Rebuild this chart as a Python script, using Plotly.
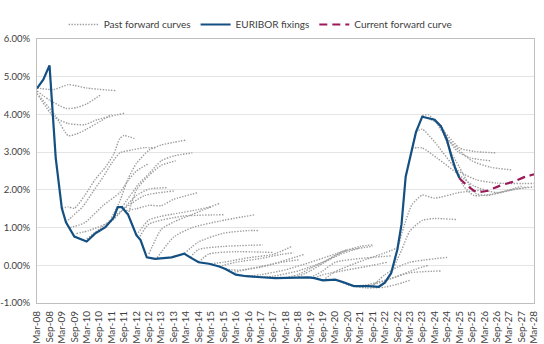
import plotly.graph_objects as go

# ---------------- data (values in %) ----------------
euribor_dates = ["2008-03", "2008-06", "2008-09", "2008-12", "2009-03", "2009-05", "2009-09",
                 "2010-03", "2010-07", "2010-12", "2011-04", "2011-06", "2011-08", "2011-11",
                 "2012-03", "2012-05", "2012-08", "2012-12", "2013-08", "2014-02", "2014-05",
                 "2014-09", "2015-02", "2015-07", "2015-10", "2016-03", "2016-08", "2017-02",
                 "2017-10", "2019-02", "2019-05", "2019-09", "2020-03", "2020-07", "2020-12",
                 "2021-07", "2021-12", "2022-03", "2022-06", "2022-09", "2022-11", "2023-01",
                 "2023-04", "2023-06", "2023-09", "2023-12", "2024-03", "2024-06", "2024-09",
                 "2024-11", "2025-01", "2025-03"]
euribor_values = [4.69, 4.92, 5.30, 2.85, 1.51, 1.14, 0.76,
                  0.63, 0.84, 1.01, 1.26, 1.54, 1.54, 1.34,
                  0.80, 0.67, 0.21, 0.17, 0.21, 0.31, 0.21,
                  0.08, 0.04, -0.03, -0.10, -0.25, -0.29, -0.32,
                  -0.34, -0.32, -0.34, -0.40, -0.38, -0.45, -0.55,
                  -0.55, -0.57, -0.46, -0.21, 0.42, 1.09, 2.35,
                  3.11, 3.53, 3.94, 3.90, 3.86, 3.69, 3.31,
                  2.90, 2.56, 2.31]

current_fwd_dates = ["2025-03", "2025-07", "2025-11", "2026-04", "2026-10", "2027-05", "2027-11", "2028-03"]
current_fwd_values = [2.31, 2.10, 1.95, 1.97, 2.10, 2.22, 2.35, 2.41]

past_fwd_dates = [
    ["2008-03", "2008-11", "2009-06", "2009-09", "2010-03", "2011-05"],
    ["2008-03", "2008-09", "2009-05", "2009-10", "2010-03", "2010-10"],
    ["2008-03", "2008-11", "2009-06", "2010-02", "2010-08", "2011-09"],
    ["2008-04", "2008-12", "2009-06", "2009-10", "2010-03", "2010-12", "2011-03"],
    ["2009-03", "2009-06", "2009-09", "2010-02", "2010-07", "2010-12", "2011-04", "2011-07", "2011-09", "2012-02"],
    ["2009-05", "2009-08", "2010-01", "2010-06", "2010-11", "2011-03", "2011-07", "2012-01", "2012-07", "2012-12"],
    ["2009-07", "2010-02", "2010-11", "2011-07", "2011-11", "2012-03", "2012-09"],
    ["2009-10", "2010-04", "2011-03", "2011-09", "2012-03", "2012-09", "2013-06"],
    ["2010-03", "2010-10", "2011-03", "2011-09", "2012-07", "2013-09"],
    ["2011-03", "2011-07", "2011-11", "2012-03", "2012-09", "2013-03", "2013-09", "2014-03"],
    ["2011-08", "2011-12", "2012-04", "2012-09", "2013-03", "2013-09", "2014-06"],
    ["2011-11", "2012-03", "2012-09", "2013-03", "2013-10"],
    ["2011-10", "2012-03", "2012-09", "2013-03", "2013-09", "2014-09"],
    ["2012-03", "2012-09", "2013-03", "2013-09", "2014-09", "2015-03"],
    ["2012-04", "2012-09", "2014-01", "2015-09"],
    ["2012-09", "2013-03", "2013-09", "2014-06", "2015-07"],
    ["2013-01", "2013-09", "2014-06", "2015-07", "2016-12"],
    ["2014-02", "2014-09", "2015-09", "2016-09", "2017-02"],
    ["2014-05", "2014-09", "2015-09", "2017-04"],
    ["2014-09", "2015-02", "2016-03", "2017-09"],
    ["2015-03", "2015-09", "2016-09", "2017-09", "2018-06"],
    ["2015-07", "2016-03", "2017-03", "2018-01", "2018-07"],
    ["2016-01", "2016-09", "2017-09", "2018-12"],
    ["2015-10", "2016-04", "2017-03", "2018-01", "2018-10"],
    ["2016-09", "2017-03", "2018-03", "2019-03", "2020-03", "2020-09"],
    ["2017-03", "2017-09", "2018-09", "2019-09", "2020-06", "2021-03"],
    ["2018-03", "2018-09", "2019-03", "2019-09", "2020-06", "2021-03", "2021-09"],
    ["2018-09", "2019-03", "2019-09", "2020-03", "2020-09", "2021-09"],
    ["2019-03", "2019-09", "2020-03", "2021-03", "2022-06"],
    ["2019-05", "2019-09", "2020-09", "2021-09", "2022-04"],
    ["2019-09", "2020-03", "2021-03", "2022-03", "2022-09"],
    ["2021-09", "2022-03", "2022-09", "2023-03", "2024-09"],
    ["2021-03", "2021-09", "2022-06", "2023-03", "2024-06"],
    ["2020-03", "2020-09", "2021-06", "2022-03", "2022-09", "2023-03"],
    ["2020-12", "2021-06", "2022-06", "2023-06", "2023-12"],
    ["2022-06", "2022-11", "2023-03", "2023-09", "2024-03", "2025-02"],
    ["2022-09", "2022-12", "2023-04", "2023-09", "2024-03", "2025-03", "2026-03"],
    ["2023-04", "2023-09", "2024-04", "2025-02", "2025-10", "2026-09", "2027-09"],
    ["2023-06", "2023-09", "2024-03", "2025-02", "2025-11", "2026-09", "2028-03"],
    ["2023-09", "2023-12", "2024-08", "2025-03", "2025-10", "2026-09"],
    ["2023-12", "2024-06", "2024-10", "2025-02", "2025-08", "2026-06"],
    ["2024-03", "2024-09", "2025-09", "2026-06", "2027-04"],
    ["2024-06", "2024-10", "2025-03", "2025-07", "2025-11", "2026-04", "2027-03", "2027-12"],
    ["2024-09", "2025-01", "2025-05", "2025-10", "2026-06", "2027-06", "2028-03"],
]
past_fwd_values = [
    [4.70, 4.66, 4.79, 4.77, 4.70, 4.63],
    [4.62, 4.38, 4.16, 4.18, 4.28, 4.53],
    [4.55, 3.94, 3.76, 3.73, 3.86, 4.03],
    [4.50, 3.95, 3.44, 3.48, 3.61, 3.90, 4.00],
    [1.51, 1.55, 1.51, 1.85, 2.27, 2.60, 2.94, 3.36, 3.44, 3.36],
    [1.14, 1.30, 1.55, 1.95, 2.35, 2.70, 2.98, 3.06, 3.12, 3.11],
    [1.00, 1.13, 1.59, 1.93, 2.25, 2.50, 2.70],
    [0.84, 0.92, 1.17, 1.51, 1.85, 2.02, 2.06],
    [0.70, 1.00, 1.22, 1.50, 1.85, 1.97],
    [1.26, 1.70, 2.30, 2.70, 3.05, 3.19, 3.26, 3.32],
    [1.54, 1.85, 2.15, 2.43, 2.77, 2.90, 2.98],
    [1.34, 2.00, 2.38, 2.65, 2.77],
    [1.45, 1.50, 1.59, 1.58, 1.75, 1.93],
    [0.80, 1.20, 1.30, 1.36, 1.48, 1.55],
    [0.70, 1.09, 1.30, 1.34],
    [0.30, 0.95, 1.15, 1.35, 1.64],
    [0.20, 0.75, 1.00, 1.17, 1.34],
    [0.31, 0.62, 0.85, 0.92, 0.92],
    [0.21, 0.42, 0.50, 0.54],
    [0.08, 0.30, 0.36, 0.34],
    [0.04, 0.08, 0.20, 0.29, 0.50],
    [-0.03, 0.08, 0.18, 0.29, 0.33],
    [-0.20, -0.10, 0.04, 0.29],
    [-0.10, -0.13, -0.05, 0.08, 0.15],
    [-0.29, -0.25, -0.12, 0.08, 0.30, 0.42],
    [-0.32, -0.29, -0.15, 0.08, 0.30, 0.46],
    [-0.33, -0.25, -0.08, 0.08, 0.35, 0.50, 0.54],
    [-0.30, -0.15, 0.05, 0.25, 0.40, 0.50],
    [-0.33, -0.15, 0.08, 0.18, 0.25],
    [-0.34, -0.25, -0.12, 0.00, 0.08],
    [-0.40, -0.17, 0.10, 0.33, 0.46],
    [-0.55, -0.25, -0.05, 0.08, 0.21],
    [-0.55, -0.52, -0.35, -0.20, -0.15],
    [-0.38, -0.52, -0.60, -0.58, -0.50, -0.40],
    [-0.55, -0.52, -0.35, -0.10, 0.00],
    [-0.21, 0.40, 0.90, 1.19, 1.24, 1.21],
    [0.42, 1.00, 1.60, 1.86, 1.78, 1.93, 2.00],
    [3.11, 3.11, 2.85, 2.43, 2.10, 1.93, 2.10],
    [3.53, 3.61, 3.27, 2.52, 2.27, 2.18, 2.17],
    [3.97, 3.99, 3.52, 3.11, 3.02, 2.98],
    [3.90, 3.70, 3.30, 3.02, 2.85, 2.77],
    [3.86, 3.36, 2.77, 2.60, 2.53],
    [3.69, 3.10, 2.60, 2.20, 1.90, 1.85, 1.98, 2.08],
    [3.31, 2.60, 2.10, 1.85, 1.88, 2.02, 2.08],
]

y_tick_values = [-1, 0, 1, 2, 3, 4, 5, 6]
y_tick_labels = ["-1.00%", "0.00%", "1.00%", "2.00%", "3.00%", "4.00%", "5.00%", "6.00%"]

# ---------------- figure ----------------
FONT = "Lato, 'Liberation Sans', sans-serif"
fig = go.Figure()

for i, (d, v) in enumerate(zip(past_fwd_dates, past_fwd_values)):
    fig.add_trace(go.Scatter(
        x=d, y=v, mode="lines", name="Past forward curves",
        line=dict(color="#9e9e9e", width=1.4, dash="1.4px,1.4px", shape="spline", smoothing=0.6),
        legendgroup="past", showlegend=(i == 0), hoverinfo="skip"))

fig.add_trace(go.Scatter(
    x=euribor_dates, y=euribor_values, mode="lines", name="EURIBOR fixings",
    line=dict(color="#134f82", width=2.2)))

fig.add_trace(go.Scatter(
    x=current_fwd_dates, y=current_fwd_values, mode="lines", name="Current forward curve",
    line=dict(color="#9c1a5a", width=2.2, dash="8px,5px", shape="spline", smoothing=0.6)))

fig.update_layout(
    width=544, height=344,
    margin=dict(l=37, r=10, t=26, b=41),
    paper_bgcolor="white", plot_bgcolor="white",
    font=dict(family=FONT, size=10, color="#404040"),
    legend=dict(orientation="h", x=0.45, xanchor="center", y=1.0, yanchor="bottom",
                font=dict(size=10, color="#404040"), itemwidth=30,
                bgcolor="rgba(0,0,0,0)", tracegroupgap=0),
    showlegend=True,
)
fig.update_xaxes(
    type="date", range=["2008-03-01", "2028-03-01"],
    tick0="2008-03-01", dtick="M6", tickformat="%b-%y", tickangle=-90,
    tickfont=dict(size=10, color="#404040"),
    showgrid=False, zeroline=False, automargin=False,
    showline=True, mirror=True, linecolor="#bfbfbf", linewidth=1,
    ticks="outside", ticklen=3, tickcolor="rgba(0,0,0,0)",
)
fig.update_yaxes(
    range=[-1, 6], tickvals=y_tick_values, ticktext=y_tick_labels,
    tickfont=dict(size=9.5, color="#404040"),
    showgrid=True, gridcolor="#e4e4e4", gridwidth=1, zeroline=False, automargin=False,
    showline=True, mirror=True, linecolor="#bfbfbf", linewidth=1,
    ticks="outside", ticklen=4, tickcolor="rgba(0,0,0,0)",
)

fig.write_html("out.html")
